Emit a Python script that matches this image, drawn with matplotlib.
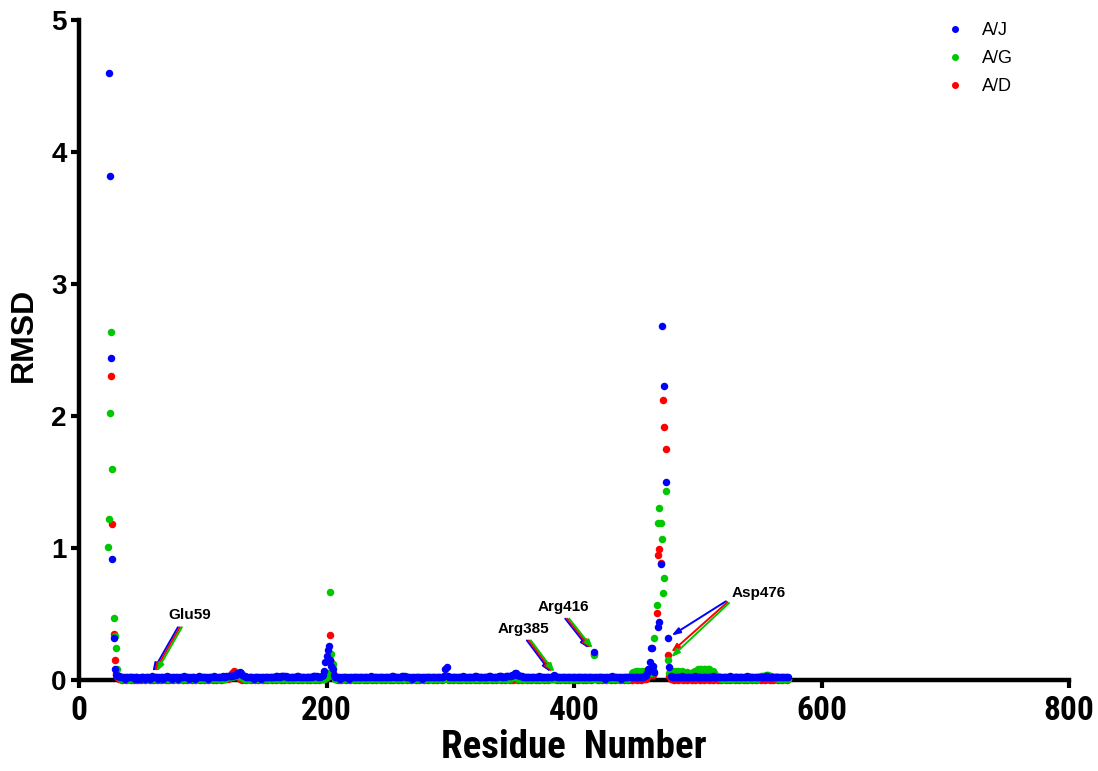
import matplotlib
matplotlib.use('Agg')
import matplotlib.pyplot as plt
from matplotlib import font_manager
import numpy as np

nan = np.nan

# residues 23..573, one value per residue (nan = no point drawn)
first_residue = 23
last_residue = 573

aj_rmsd = [
    nan, 4.60, 3.82, 2.44, 0.92, 0.32, 0.08, 0.04, 0.03, 0.03, 0.02, 0.02, 0.02, 0.02, 0.01, 0.02, 0.02, 0.02, 0.02, 0.02,
    0.02, 0.02, 0.01, 0.02, 0.02, 0.01, 0.01, 0.02, 0.02, 0.02, 0.01, 0.02, 0.02, 0.02, 0.01, 0.02, 0.03, 0.02, 0.02, 0.02,
    0.02, 0.01, 0.02, 0.02, 0.02, 0.01, 0.02, 0.02, 0.03, 0.02, 0.02, 0.02, 0.01, 0.02, 0.02, 0.02, 0.02, 0.01, 0.02, 0.02,
    0.02, 0.02, 0.03, 0.02, 0.02, 0.02, 0.01, 0.02, 0.02, 0.02, 0.02, 0.01, 0.02, 0.02, 0.03, 0.02, 0.02, 0.02, 0.02, 0.02,
    0.02, 0.01, 0.02, 0.02, 0.02, 0.02, 0.03, 0.02, 0.02, 0.02, 0.02, 0.02, 0.02, 0.03, 0.02, 0.02, 0.03, 0.03, 0.03, 0.03,
    0.03, 0.03, 0.04, 0.04, 0.04, 0.05, 0.05, 0.06, 0.05, 0.04, 0.03, 0.03, 0.02, 0.02, 0.02, 0.02, 0.02, 0.02, 0.01, 0.02,
    0.02, 0.02, 0.02, 0.02, 0.01, 0.02, 0.02, 0.02, 0.02, 0.02, 0.02, 0.02, 0.02, 0.02, 0.02, 0.02, 0.03, 0.03, 0.02, 0.02,
    0.03, 0.03, 0.03, 0.03, 0.03, 0.02, 0.02, 0.02, 0.02, 0.02, 0.02, 0.02, 0.02, 0.03, 0.03, 0.02, 0.02, 0.02, 0.02, 0.02,
    0.02, 0.02, 0.02, 0.02, 0.02, 0.02, 0.03, 0.03, 0.03, 0.03, 0.02, 0.02, 0.02, 0.03, 0.04, 0.07, 0.14, 0.18, 0.23, 0.26,
    0.15, 0.11, 0.08, 0.04, 0.02, 0.02, 0.02, 0.02, 0.01, 0.02, 0.02, 0.02, 0.02, 0.02, 0.02, 0.01, 0.02, 0.02, 0.02, 0.02,
    0.02, 0.02, 0.02, 0.02, 0.02, 0.02, 0.02, 0.02, 0.02, 0.02, 0.02, 0.02, 0.02, 0.03, 0.02, 0.02, 0.02, 0.02, 0.02, 0.02,
    0.02, 0.02, 0.02, 0.02, 0.02, 0.02, 0.02, 0.02, 0.02, 0.02, 0.03, 0.03, 0.02, 0.02, 0.02, 0.02, 0.02, 0.02, 0.03, 0.03,
    0.03, 0.02, 0.02, 0.02, 0.02, 0.02, 0.01, 0.02, 0.02, 0.02, 0.02, 0.02, 0.02, 0.02, 0.01, 0.02, 0.02, 0.02, 0.02, 0.02,
    0.02, 0.02, 0.02, 0.02, 0.02, 0.02, 0.02, 0.02, 0.02, 0.02, 0.02, 0.02, 0.03, 0.08, 0.10, 0.03, 0.02, 0.02, 0.02, 0.02,
    0.02, 0.02, 0.02, 0.02, 0.02, 0.02, 0.02, 0.03, 0.02, 0.02, 0.02, 0.02, 0.02, 0.02, 0.02, 0.02, 0.02, 0.03, 0.03, 0.02,
    0.02, 0.02, 0.02, 0.02, 0.02, 0.02, 0.02, 0.02, 0.03, 0.03, 0.02, 0.02, 0.02, 0.02, 0.02, 0.02, 0.03, 0.03, 0.03, 0.02,
    0.02, 0.02, 0.03, 0.03, 0.03, 0.03, 0.03, 0.04, 0.04, 0.05, 0.05, 0.04, 0.04, 0.03, 0.03, 0.03, 0.02, 0.02, 0.02, 0.02,
    0.02, 0.02, 0.02, 0.02, 0.02, 0.02, 0.02, 0.02, 0.02, 0.03, 0.02, 0.02, 0.02, 0.02, 0.02, 0.02, 0.02, 0.02, 0.02, 0.02,
    0.03, 0.04, 0.03, 0.02, 0.02, 0.02, 0.02, 0.02, 0.02, 0.02, 0.02, 0.02, 0.02, 0.02, 0.02, 0.02, 0.02, 0.02, 0.02, 0.02,
    0.02, 0.02, 0.02, 0.02, 0.02, 0.02, 0.02, 0.02, 0.02, 0.02, 0.02, 0.02, 0.02, 0.21, 0.02, 0.02, 0.02, 0.02, 0.02, 0.02,
    0.02, 0.02, 0.01, 0.02, 0.02, 0.02, 0.02, 0.02, 0.03, 0.02, 0.02, 0.02, 0.02, 0.02, 0.02, 0.01, 0.02, 0.02, 0.02, 0.02,
    0.02, 0.02, 0.02, 0.02, 0.02, 0.02, 0.02, 0.02, 0.02, 0.02, 0.02, 0.02, 0.02, 0.02, 0.03, 0.04, 0.05, 0.08, 0.14, 0.24,
    0.24, 0.11, 0.06, nan, nan, 0.40, 0.44, 0.88, 2.68, nan, 2.23, 1.50, nan, 0.32, 0.10, 0.03, 0.02, 0.02, 0.02, 0.02,
    0.02, 0.02, 0.02, 0.02, 0.03, 0.02, 0.02, 0.02, 0.02, 0.02, 0.02, 0.02, 0.02, 0.02, 0.02, 0.03, 0.02, 0.02, 0.02, 0.02,
    0.02, 0.02, 0.02, 0.02, 0.02, 0.02, 0.02, 0.02, 0.02, 0.03, 0.02, 0.02, 0.02, 0.02, 0.02, 0.02, 0.02, 0.02, 0.02, 0.02,
    0.02, 0.02, 0.02, 0.03, 0.02, 0.02, 0.02, 0.02, 0.02, 0.02, 0.02, 0.02, 0.02, 0.02, 0.02, 0.02, 0.02, 0.03, 0.02, 0.02,
    0.02, 0.02, 0.02, 0.02, 0.02, 0.02, 0.02, 0.02, 0.02, 0.02, 0.02, 0.02, 0.03, 0.03, 0.02, 0.02, 0.02, 0.02, 0.02, 0.02,
    0.02, 0.02, 0.02, 0.02, 0.02, 0.02, 0.02, 0.02, 0.02, 0.02, 0.02,
]

ag_rmsd = [
    1.01, 1.22, 2.02, 2.64, 1.60, 0.47, 0.33, 0.24, 0.08, 0.03, 0.02, 0.01, 0.01, 0.01, 0.01, 0.01, 0.01, 0.01, 0.01, 0.01,
    0.01, 0.01, 0.01, 0.02, 0.01, 0.01, 0.01, 0.01, 0.01, 0.02, 0.01, 0.01, 0.01, 0.01, 0.01, 0.01, 0.02, 0.01, 0.01, 0.01,
    0.01, 0.01, 0.01, 0.01, 0.01, 0.01, 0.01, 0.01, 0.01, 0.01, 0.01, 0.01, 0.01, 0.01, 0.01, 0.01, 0.01, 0.01, 0.01, 0.01,
    0.01, 0.01, 0.01, 0.01, 0.01, 0.01, 0.01, 0.01, 0.01, 0.01, 0.01, 0.01, 0.01, 0.01, 0.01, 0.01, 0.01, 0.01, 0.01, 0.01,
    0.01, 0.01, 0.01, 0.01, 0.01, 0.01, 0.01, 0.01, 0.01, 0.01, 0.01, 0.01, 0.01, 0.01, 0.01, 0.01, 0.02, 0.02, 0.02, 0.02,
    0.02, 0.02, 0.03, 0.03, 0.03, 0.04, 0.03, 0.03, 0.02, 0.02, 0.01, 0.01, 0.01, 0.01, 0.01, 0.01, 0.01, 0.01, 0.01, 0.01,
    0.01, 0.01, 0.01, 0.01, 0.01, 0.01, 0.01, 0.01, 0.01, 0.01, 0.01, 0.01, 0.01, 0.01, 0.01, 0.01, 0.01, 0.01, 0.01, 0.01,
    0.01, 0.01, 0.01, 0.01, 0.01, 0.01, 0.01, 0.01, 0.01, 0.01, 0.01, 0.01, 0.01, 0.01, 0.01, 0.01, 0.01, 0.01, 0.01, 0.01,
    0.01, 0.01, 0.01, 0.01, 0.01, 0.01, 0.01, 0.01, 0.01, 0.01, 0.01, 0.01, 0.01, 0.01, 0.01, 0.01, 0.02, 0.02, 0.03, 0.05,
    0.67, 0.20, 0.12, 0.03, 0.01, 0.01, 0.01, 0.01, 0.01, 0.01, 0.01, 0.01, 0.01, 0.01, 0.01, 0.01, 0.01, 0.01, 0.01, 0.01,
    0.01, 0.01, 0.01, 0.01, 0.01, 0.01, 0.01, 0.01, 0.01, 0.01, 0.01, 0.01, 0.01, 0.01, 0.01, 0.01, 0.01, 0.01, 0.01, 0.01,
    0.01, 0.01, 0.01, 0.01, 0.01, 0.01, 0.01, 0.01, 0.01, 0.01, 0.01, 0.01, 0.01, 0.01, 0.01, 0.01, 0.01, 0.01, 0.01, 0.01,
    0.01, 0.01, 0.01, 0.01, 0.01, 0.01, 0.01, 0.01, 0.01, 0.01, 0.01, 0.01, 0.01, 0.01, 0.01, 0.01, 0.01, 0.01, 0.01, 0.01,
    0.01, 0.01, 0.01, 0.01, 0.01, 0.01, 0.01, 0.01, 0.01, 0.01, 0.01, 0.01, 0.01, 0.02, 0.02, 0.01, 0.01, 0.01, 0.01, 0.01,
    0.01, 0.01, 0.01, 0.01, 0.01, 0.01, 0.01, 0.01, 0.01, 0.01, 0.01, 0.01, 0.01, 0.01, 0.01, 0.01, 0.01, 0.01, 0.01, 0.01,
    0.01, 0.01, 0.01, 0.01, 0.01, 0.01, 0.01, 0.01, 0.01, 0.01, 0.01, 0.01, 0.01, 0.01, 0.01, 0.01, 0.01, 0.01, 0.01, 0.01,
    0.01, 0.01, 0.01, 0.01, 0.01, 0.01, 0.02, 0.02, 0.02, 0.02, 0.02, 0.02, 0.01, 0.01, 0.01, 0.01, 0.01, 0.01, 0.01, 0.01,
    0.01, 0.01, 0.01, 0.01, 0.01, 0.01, 0.01, 0.01, 0.01, 0.01, 0.01, 0.01, 0.01, 0.01, 0.01, 0.01, 0.01, 0.01, 0.01, 0.01,
    0.01, 0.02, 0.02, 0.01, 0.01, 0.01, 0.01, 0.01, 0.01, 0.01, 0.01, 0.01, 0.01, 0.01, 0.01, 0.01, 0.01, 0.01, 0.01, 0.01,
    0.01, 0.01, 0.01, 0.01, 0.01, 0.01, 0.01, 0.01, 0.01, 0.01, 0.01, 0.01, 0.01, 0.19, 0.01, 0.01, 0.01, 0.01, 0.01, 0.01,
    0.01, 0.01, 0.01, 0.01, 0.01, 0.01, 0.01, 0.01, 0.01, 0.01, 0.01, 0.01, 0.01, 0.01, 0.01, 0.01, 0.01, 0.01, 0.01, 0.01,
    0.01, 0.01, 0.02, 0.03, 0.05, 0.06, 0.06, 0.07, 0.06, 0.07, 0.06, 0.06, 0.07, 0.06, 0.06, 0.07, 0.07, 0.06, 0.05, 0.06,
    0.05, 0.08, 0.32, nan, 0.57, 1.19, 1.30, 1.19, 1.07, 0.66, 0.77, 1.43, nan, 0.15, 0.05, 0.06, 0.06, 0.07, 0.06, 0.07,
    0.06, 0.07, 0.06, 0.06, 0.07, 0.06, 0.05, 0.05, 0.06, 0.05, 0.04, 0.04, 0.05, 0.06, 0.06, 0.07, 0.07, 0.08, 0.07, 0.08,
    0.08, 0.07, 0.08, 0.08, 0.07, 0.08, 0.08, 0.07, 0.06, 0.07, 0.05, 0.04, 0.03, 0.02, 0.02, 0.02, 0.01, 0.01, 0.01, 0.01,
    0.01, 0.01, 0.02, 0.02, 0.01, 0.01, 0.01, 0.01, 0.02, 0.02, 0.01, 0.01, 0.01, 0.01, 0.01, 0.01, 0.01, 0.01, 0.02, 0.02,
    0.01, 0.01, 0.01, 0.01, 0.01, 0.01, 0.02, 0.02, 0.03, 0.03, 0.03, 0.03, 0.04, 0.04, 0.04, 0.03, 0.03, 0.02, 0.02, 0.02,
    0.02, 0.02, 0.01, 0.01, 0.01, 0.01, 0.01, 0.01, 0.01, 0.01, 0.01,
]

ad_rmsd = [
    nan, nan, nan, 2.30, 1.18, 0.35, 0.15, 0.05, 0.02, 0.01, 0.01, 0.01, 0.00, 0.01, 0.01, 0.00, 0.01, 0.01, 0.01, 0.00,
    0.01, 0.00, 0.01, 0.01, 0.00, 0.01, 0.01, 0.00, 0.01, 0.01, 0.00, 0.01, 0.01, 0.01, 0.00, 0.01, 0.01, 0.00, 0.01, 0.01,
    0.00, 0.01, 0.01, 0.00, 0.01, 0.01, 0.01, 0.00, 0.01, 0.01, 0.00, 0.01, 0.01, 0.00, 0.01, 0.01, 0.01, 0.00, 0.01, 0.01,
    0.01, 0.00, 0.01, 0.01, 0.00, 0.01, 0.01, 0.01, 0.00, 0.01, 0.01, 0.00, 0.01, 0.01, 0.01, 0.00, 0.01, 0.01, 0.00, 0.01,
    0.01, 0.00, 0.01, 0.01, 0.01, 0.00, 0.01, 0.01, 0.00, 0.01, 0.01, 0.01, 0.00, 0.01, 0.01, 0.01, 0.01, 0.01, 0.02, 0.03,
    0.04, 0.05, 0.07, 0.05, 0.04, 0.03, 0.02, 0.01, 0.01, 0.00, 0.01, 0.01, 0.00, 0.01, 0.01, 0.01, 0.00, 0.01, 0.01, 0.00,
    0.01, 0.01, 0.00, 0.01, 0.01, 0.01, 0.00, 0.01, 0.01, 0.00, 0.01, 0.01, 0.01, 0.00, 0.01, 0.01, 0.00, 0.01, 0.01, 0.01,
    0.00, 0.01, 0.01, 0.00, 0.01, 0.01, 0.01, 0.00, 0.01, 0.01, 0.00, 0.01, 0.01, 0.01, 0.00, 0.01, 0.01, 0.00, 0.01, 0.01,
    0.01, 0.00, 0.01, 0.01, 0.00, 0.01, 0.01, 0.01, 0.00, 0.01, 0.01, 0.00, 0.01, 0.01, 0.01, 0.01, 0.01, 0.02, 0.03, 0.05,
    0.34, 0.14, 0.05, 0.02, 0.01, 0.01, 0.00, 0.01, 0.01, 0.00, 0.01, 0.01, 0.01, 0.00, 0.01, 0.01, 0.00, 0.01, 0.01, 0.01,
    0.00, 0.01, 0.01, 0.00, 0.01, 0.01, 0.01, 0.00, 0.01, 0.01, 0.00, 0.01, 0.01, 0.01, 0.00, 0.01, 0.01, 0.00, 0.01, 0.01,
    0.01, 0.00, 0.01, 0.01, 0.00, 0.01, 0.01, 0.01, 0.00, 0.01, 0.01, 0.00, 0.01, 0.01, 0.01, 0.00, 0.01, 0.01, 0.00, 0.01,
    0.01, 0.01, 0.00, 0.01, 0.01, 0.00, 0.01, 0.01, 0.01, 0.00, 0.01, 0.01, 0.00, 0.01, 0.01, 0.01, 0.00, 0.01, 0.01, 0.00,
    0.01, 0.01, 0.01, 0.00, 0.01, 0.01, 0.00, 0.01, 0.01, 0.01, 0.00, 0.01, 0.01, 0.01, 0.01, 0.01, 0.00, 0.01, 0.01, 0.00,
    0.01, 0.01, 0.01, 0.00, 0.01, 0.01, 0.00, 0.01, 0.01, 0.01, 0.00, 0.01, 0.01, 0.00, 0.01, 0.01, 0.01, 0.00, 0.01, 0.01,
    0.00, 0.01, 0.01, 0.01, 0.00, 0.01, 0.01, 0.00, 0.01, 0.01, 0.01, 0.00, 0.01, 0.01, 0.00, 0.01, 0.01, 0.01, 0.00, 0.01,
    0.01, 0.00, 0.01, 0.01, 0.01, 0.00, 0.01, 0.01, 0.00, 0.01, 0.01, 0.01, 0.00, 0.01, 0.01, 0.00, 0.01, 0.01, 0.01, 0.00,
    0.01, 0.01, 0.00, 0.01, 0.01, 0.01, 0.00, 0.01, 0.01, 0.00, 0.01, 0.01, 0.01, 0.00, 0.01, 0.01, 0.00, 0.01, 0.01, 0.01,
    0.01, 0.01, 0.01, 0.00, 0.01, 0.01, 0.00, 0.01, 0.01, 0.01, 0.00, 0.01, 0.01, 0.00, 0.01, 0.01, 0.01, 0.00, 0.01, 0.01,
    0.00, 0.01, 0.01, 0.01, 0.00, 0.01, 0.01, 0.00, 0.01, 0.01, 0.01, 0.00, 0.01, 0.20, 0.01, 0.01, 0.00, 0.01, 0.01, 0.01,
    0.00, 0.01, 0.01, 0.00, 0.01, 0.01, 0.01, 0.00, 0.01, 0.01, 0.00, 0.01, 0.01, 0.01, 0.00, 0.01, 0.01, 0.00, 0.01, 0.01,
    0.01, 0.00, 0.01, 0.01, 0.00, 0.01, 0.01, 0.01, 0.00, 0.01, 0.01, 0.00, 0.01, 0.01, 0.01, 0.01, 0.02, 0.03, 0.04, 0.05,
    0.10, 0.04, 0.05, nan, 0.51, 0.95, 0.99, 0.89, nan, 2.12, 1.92, 1.75, nan, 0.19, 0.03, 0.01, 0.01, 0.01, 0.00, 0.01,
    0.01, 0.00, 0.01, 0.01, 0.01, 0.00, 0.01, 0.01, 0.00, 0.01, 0.01, 0.01, 0.00, 0.01, 0.01, 0.00, 0.01, 0.01, 0.01, 0.00,
    0.01, 0.01, 0.00, 0.01, 0.01, 0.01, 0.00, 0.01, 0.01, 0.00, 0.01, 0.01, 0.01, 0.00, 0.01, 0.01, 0.00, 0.01, 0.01, 0.01,
    0.00, 0.01, 0.01, 0.00, 0.01, 0.01, 0.01, 0.00, 0.01, 0.01, 0.00, 0.01, 0.01, 0.01, 0.00, 0.01, 0.01, 0.00, 0.01, 0.01,
    0.01, 0.00, 0.01, 0.01, 0.00, 0.01, 0.01, 0.01, 0.00, 0.01, 0.01, 0.00, 0.01, 0.01, 0.01, 0.00, 0.01, 0.01, 0.00, 0.01,
    0.01, 0.01, 0.00, 0.01, 0.01, 0.00, 0.01, 0.01, 0.01, 0.00, 0.01,
]

series_labels = ['A/J', 'A/G', 'A/D']
series_colors = ['#0000FF', '#00C800', '#FF0000']

x_ticks = [0, 200, 400, 600, 800]
y_ticks = [0, 1, 2, 3, 4, 5]

# labelled residues
marked_names = ['Glu59', 'Arg385', 'Arg416', 'Asp476']
marked_residues = [59, 385, 416, 476]

plt.rcParams['font.family'] = ['Liberation Sans', 'DejaVu Sans']


def narrow_font():
    """Find a narrow/condensed bold sans for the x axis, like Arial Narrow."""
    fonts = font_manager.fontManager.ttflist
    names = {f.name for f in fonts}
    for name in ['Liberation Sans Narrow', 'Arial Narrow', 'Roboto Condensed', 'DejaVu Sans Condensed']:
        if name in names:
            return dict(fontfamily=name), 1.0
    for f in fonts:
        if f.name == 'DejaVu Sans' and f.stretch in ('condensed', 'semi-condensed'):
            return dict(fontfamily='DejaVu Sans', fontstretch='condensed'), 0.92
    # no narrow face: regular bold, a bit smaller so the width fits
    return dict(fontfamily='Liberation Sans'), 0.86


NARROW, narrow_scale = narrow_font()

residues = np.arange(first_residue, last_residue + 1)
series = {'A/J': np.array(aj_rmsd), 'A/G': np.array(ag_rmsd), 'A/D': np.array(ad_rmsd)}
for name, vals in series.items():
    if len(vals) != len(residues):
        raise ValueError(f'{name}: {len(vals)} values for {len(residues)} residues')

fig = plt.figure(figsize=(10.98, 7.71), dpi=100)
ax = fig.add_axes([0.072, 0.118, 0.9016, 0.856])

# red first, blue last (blue sits on top in the original)
handles = {}
for label, color, z in zip(series_labels[::-1], series_colors[::-1], [4, 5, 6]):
    h, = ax.plot(residues, series[label], 'o', color=color, markersize=5.4, markeredgewidth=0,
                 linestyle='none', zorder=z, clip_on=False, label=label)
    handles[label] = h

ax.set_xlim(0, 800)
ax.set_ylim(0, 5)

for side in ['top', 'right']:
    ax.spines[side].set_visible(False)
for side in ['left', 'bottom']:
    ax.spines[side].set_linewidth(3.2)

ax.tick_params(axis='both', which='major', length=6, width=3, direction='out')
ax.tick_params(axis='x', pad=5)
ax.tick_params(axis='y', pad=3)
ax.set_xticks(x_ticks, labels=[str(t) for t in x_ticks], fontsize=24 * narrow_scale,
              fontweight='bold', **NARROW)
ax.set_yticks(y_ticks, labels=[str(t) for t in y_ticks], fontsize=20, fontweight='bold')

ax.set_xlabel('Residue  Number', fontsize=28 * narrow_scale, fontweight='bold', va='center', **NARROW)
ax.xaxis.set_label_coords(0.5, -0.103)
ax.set_ylabel('RMSD', fontsize=23, fontweight='bold', va='center')
ax.yaxis.set_label_coords(-0.056, 0.523)


def value_at(label, res):
    return series[label][res - first_residue]


arrow_kw = dict(arrowstyle='-|>,head_length=0.5,head_width=0.17', mutation_scale=10, lw=1.4)
color_of = dict(zip(series_labels, series_colors))

# label text centres and arrow tails, in data units
text_pos = {'Glu59': (89.4, 0.49), 'Arg385': (359.2, 0.386), 'Arg416': (391.2, 0.557), 'Asp476': (549, 0.657)}
tail_pos = {'Glu59': (81.5, 0.40), 'Arg385': (363.5, 0.30), 'Arg416': (394.5, 0.465), 'Asp476': (524, 0.59)}
shifts = {'A/J': -1.6, 'A/D': 0.0, 'A/G': 1.6}

for name, res in zip(marked_names, marked_residues):
    ax.text(*text_pos[name], name, fontsize=11, fontweight='bold', ha='center', va='center', zorder=8)
    sx, sy = tail_pos[name]
    for label in ['A/J', 'A/D', 'A/G']:
        if name == 'Asp476':
            # fan of arrows, one to each series' point
            tail = (sx + shifts[label] * 0.8, sy - shifts[label] * 0.004)
            tip = (res, value_at(label, res))
            shrink = 3
        else:
            # three parallel arrows to the same residue
            dx = shifts[label]
            tail = (sx + dx, sy)
            tip = (res + dx, max(value_at(label, res), value_at('A/J', res)))
            shrink = 3.5
        ax.annotate('', xy=tip, xytext=tail,
                    arrowprops=dict(color=color_of[label], shrinkA=0, shrinkB=shrink, **arrow_kw),
                    zorder=7, annotation_clip=False)

leg = ax.legend(handles=[handles[l] for l in series_labels], loc='upper left',
                bbox_to_anchor=(948 / 1098, 1 - 22 / 771), bbox_transform=fig.transFigure,
                frameon=False, fontsize=13, handlelength=0.8, handletextpad=1.1,
                labelspacing=0.62, borderpad=0, borderaxespad=0, markerscale=0.93)

fig.savefig('out.png', dpi=100)
